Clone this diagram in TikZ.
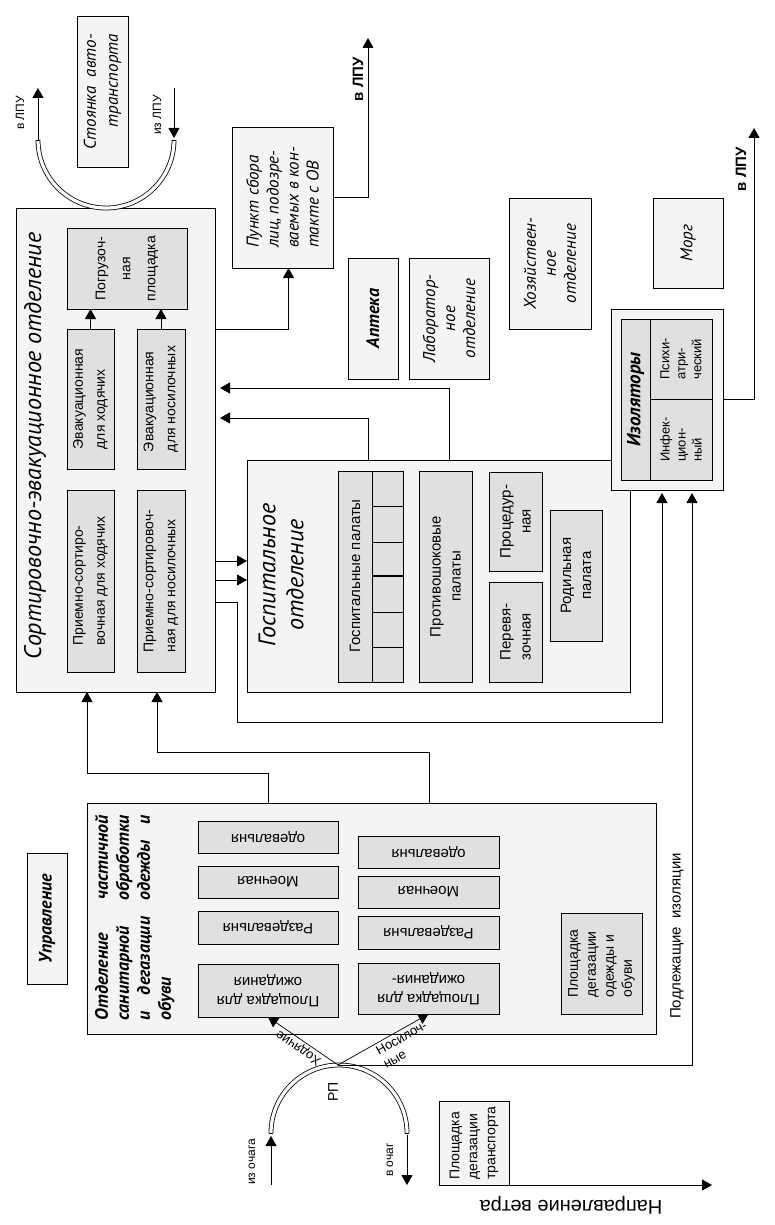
\documentclass[tikz,border=0pt]{standalone}
\usepackage{fontspec}
\setmainfont{Liberation Sans}
\newfontfamily\ptf{PT Sans}
\usetikzlibrary{arrows.meta,calc}
\newcommand\bx[6]{%
 \pgfmathsetmacro\bxw{#5-#3}\pgfmathsetmacro\bxh{#6-#4}%
 \node[#2,anchor=north west,minimum width=\bxw pt,minimum height=\bxh pt] (#1) at (#3,#4) {};}
\begin{document}
\begin{tikzpicture}[x=1pt,y=-1pt,
  every node/.style={inner sep=0pt,outer sep=0pt},
  lt/.style={draw,line width=0.9pt,fill=gray!9},
  dk/.style={draw,line width=0.9pt,fill=gray!24},
  ln/.style={line width=0.9pt},
  arr/.style={line width=0.9pt,-{Triangle[length=10pt,width=11pt]}},
  dbl/.style={line width=0.8pt,double=white,double distance=3.2pt},
  r12/.style={font=\fontsize{12}{14}\selectfont},
  r14/.style={font=\fontsize{14}{22}\selectfont},
  r15/.style={font=\fontsize{15}{20}\selectfont},
  it16/.style={font=\ptf\itshape\fontsize{17}{20}\selectfont},
  bi17/.style={font=\ptf\bfseries\itshape\fontsize{18}{20}\selectfont},
  bd15/.style={font=\bfseries\fontsize{15}{18}\selectfont},
]
\useasboundingbox (0,0) rectangle (774,1225);
% ---------- boxes
\bx{stoy}{lt}{77}{16}{128}{167}
\bx{punkt}{lt}{232}{127}{333}{268}
\bx{seo}{lt}{16}{208}{215}{692}
\bx{pogr}{dk}{67}{228}{187}{309}
\bx{evh}{dk}{67}{329}{114}{469}
\bx{evn}{dk}{137}{329}{185}{469}
\bx{prh}{dk}{67}{490}{114}{672}
\bx{prn}{dk}{137}{490}{185}{672}
\bx{apt}{lt}{348}{258}{398}{379}
\bx{lab}{lt}{409}{258}{489}{379}
\bx{hoz}{lt}{509}{198}{591}{329}
\bx{morg}{lt}{653}{198}{723}{288}
\bx{gosp}{lt}{247}{460}{630}{692}
\bx{izo}{lt}{611}{309}{723}{490}
\bx{izoin}{dk}{621}{319}{712}{480}
\draw[ln] (650,319) -- (650,480) (650,399) -- (712,399);
\bx{gpal}{dk}{338}{471}{403}{682}
\draw[ln] (372,471) -- (372,682);
\foreach \yy in {506,542,612,647} \draw[ln] (372,\yy) -- (403,\yy);
\draw[line width=1.8pt] (372,576) -- (403,576);
\bx{proti}{dk}{419}{471}{472}{682}
\bx{proc}{dk}{489}{472}{542}{571}
\bx{perev}{dk}{489}{582}{542}{682}
\bx{rod}{dk}{550}{510}{602}{641}
\bx{san}{lt}{87}{803}{656}{1034}
\bx{l1}{dk}{198}{821}{338}{853}
\bx{l2}{dk}{198}{866}{338}{898}
\bx{l3}{dk}{198}{911}{338}{944}
\bx{l4}{dk}{198}{964}{338}{1017}
\bx{r1}{dk}{358}{836}{499}{868}
\bx{r2}{dk}{358}{876}{499}{908}
\bx{r3}{dk}{358}{916}{499}{949}
\bx{r4}{dk}{358}{963}{499}{1014}
\bx{degod}{dk}{561}{913}{642}{1014}
\bx{upr}{lt}{27}{853}{67}{984}
\bx{degtr}{lt}{439}{1101}{509}{1185}
% ---------- coordinates
\coordinate (vlA) at (38,88);
\coordinate (izA) at (174,88);
\coordinate (arcL) at (38,140);
\coordinate (arcR) at (174,138);
\coordinate (vl1) at (368,38);
\coordinate (vl2) at (754,128);
\coordinate (rp) at (338,1065);
\coordinate (izoch) at (271,1185);
\coordinate (rpL) at (271,1136);
\coordinate (rpR) at (407,1135);
\coordinate (voch) at (407,1185);
\coordinate (wind) at (712,1185);
% ---------- arcs
\draw[dbl] (38,140) arc[start angle=180,end angle=0,radius=68];
\draw[dbl] (271,1133) arc[start angle=180,end angle=360,radius=68];
\foreach \p in {(38,140),(174,140),(271,1133),(407,1133)}
  \draw[line width=0.8pt] \p ++(-2.4,0) -- ++(4.8,0);
% ---------- connectors
\draw[arr] (arcL) -- (vlA);
\draw[arr] (izA) -- (arcR);
\draw[arr] (punkt.east) -| (vl1);
\draw[arr] (izo.east) -| (vl2);
\draw[arr] (seo.east |- 0,329) -| ([xshift=6pt]punkt.south);
\draw[arr] (evh.north) -- (evh.north |- pogr.south);
\draw[arr] (evn.north) -- (evn.north |- pogr.south);
\draw[arr,shorten >=5pt] (gosp.north -| 449,0) |- (seo.east |- 0,388);
\draw[arr,shorten >=5pt] (gosp.north -| 368,0) |- (seo.east |- 0,418);
\draw[arr] (seo.east |- 0,561) -- (gosp.west |- 0,561);
\draw[arr] (seo.east |- 0,580) -- (gosp.west |- 0,580);
\draw[arr,shorten >=3pt] (seo.east |- 0,602) -| (237,722) -| (izo.south -| 662,0);
\draw[arr,shorten >=3pt] (rp) -| (izo.south -| 692,0);
\draw[arr] (san.north -| 268,0) |- (87,773) -- (seo.south -| 87,0);
\draw[arr] (san.north -| 429,0) |- (157,752) -- (seo.south -| 157,0);
\draw[arr,line width=0.7pt] (rp) -- (l4.south);
\draw[arr,line width=0.7pt] (rp) -- (r4.south);
\draw[arr] (izoch) -- (rpL);
\draw[arr] (rpR) -- (voch);
\draw[arr] (degtr.south west) -- (wind);
% ---------- texts
\node[r12,rotate=90] (t1) at (20,113) {в ЛПУ};
\node[r12,rotate=90] (t2) at (157,115) {из ЛПУ};
\node[rotate=90,align=right,font=\ptf\itshape\fontsize{17}{22}\selectfont] (t3) at (stoy.center) {Стоянка~~авто-\\транспорта};
\node[it16,rotate=90,align=left] (t4) at (punkt.center) {Пункт сбора\\лиц, подозре-\\ваемых в кон-\\такте с ОВ};
\node[bd15,rotate=90] (t5) at (358,79) {в ЛПУ};
\node[bd15,rotate=90] (t6) at (741,169) {в ЛПУ};
\node[rotate=90,font=\ptf\itshape\fontsize{24}{28}\selectfont] (t7) at (35,446) {Сортировочно-эвакуационное отделение};
\node[rotate=90,align=center,font=\fontsize{14}{25}\selectfont] (t8) at (pogr.center) {Погрузоч-\\ная\\площадка};
\node[r14,rotate=90,align=left] (t9) at (evh.center) {Эвакуационная\\для ходячих};
\node[r14,rotate=90,align=left] (t10) at (evn.center) {Эвакуационная\\для носилочных};
\node[r14,rotate=90,align=left] (t11) at (prh.center) {Приемно-сортиро-\\вочная для ходячих};
\node[r14,rotate=90,align=left] (t12) at (prn.center) {Приемно-сортировоч-\\ная для носилочных};
\node[bi17,rotate=90] (t13) at (apt.center) {Аптека};
\node[it16,rotate=90,align=center] (t14) at (lab.center) {Лаборатор-\\ное\\отделение};
\node[it16,rotate=90,align=center] (t15) at (hoz.center) {Хозяйствен-\\ное\\отделение};
\node[it16,rotate=90] (t16) at (morg.center) {Морг};
\node[rotate=90,align=center,font=\ptf\itshape\fontsize{24}{28}\selectfont] (t17) at (281,575) {Госпитальное\\отделение};
\node[r15,rotate=90] (t18) at (355,576) {Госпитальные палаты};
\node[r15,rotate=90,align=center] (t19) at (proti.center) {Противошоковые\\палаты};
\node[r15,rotate=90,align=center] (t20) at (proc.center) {Процедур-\\ная};
\node[r15,rotate=90,align=left] (t21) at (perev.center) {Перевя-\\зочная};
\node[r15,rotate=90,align=center] (t22) at (rod.center) {Родильная\\палата};
\node[rotate=90,font=\ptf\bfseries\itshape\fontsize{19}{20}\selectfont] (t23) at (635.5,399.5) {Изоляторы};
\node[rotate=90,align=left,font=\fontsize{13}{16}\selectfont] (t24) at (681,359) {Психи-\\атри-\\ческий};
\node[rotate=90,align=left,font=\fontsize{13}{16}\selectfont] (t25) at (681,439.5) {Инфек-\\цион-\\ный};
\node[rotate=90,anchor=north west,text width=205pt,align=left,font=\ptf\bfseries\itshape\fontsize{18}{21}\selectfont] (t26) at (95,1020)
  {Отделение\hfill частичной\\санитарной\hfill обработки\\и\hfill дегазации\hfill одежды\hfill и\\обуви};
\node[r15,rotate=180] (t27) at (l1.center) {одевальня};
\node[r15,rotate=180] (t28) at (l2.center) {Моечная};
\node[r15,rotate=180] (t29) at (l3.center) {Раздевальня};
\node[r15,rotate=180,align=center,font=\fontsize{15}{19}\selectfont] (t30) at (l4.center) {Площадка для\\ожидания};
\node[r15,rotate=180] (t31) at (r1.center) {одевальня};
\node[r15,rotate=180] (t32) at (r2.center) {Моечная};
\node[r15,rotate=180] (t33) at (r3.center) {Раздевальня};
\node[r15,rotate=180,align=center,font=\fontsize{15}{19}\selectfont] (t34) at (r4.center) {Площадка для\\ожидания-};
\node[rotate=90,align=left,font=\fontsize{14}{18}\selectfont] (t35) at (degod.center) {Площадка\\дегазации\\одежды и\\обуви};
\node[bi17,rotate=90] (t36) at (upr.center) {Управление};
\node[rotate=90,align=left,font=\fontsize{14}{18}\selectfont] (t37) at (degtr.center) {Площадка\\дегазации\\транспорта};
\node[r14,rotate=90] (t38) at (333,1092) {РП};
\node[r12,rotate=90] (t39) at (252,1162) {из очага};
\node[r12,rotate=90] (t40) at (390,1160) {в очаг};
\node[rotate=146.3,anchor=south,inner sep=2pt,font=\fontsize{13}{15}\selectfont] (t41) at ($(rp)!0.5!(l4.south)$) {Ходячие};
\node[rotate=29.5,anchor=north west,inner sep=2pt,align=left,font=\fontsize{13}{15}\selectfont] (t42) at (372,1047) {Носилоч-\\ные};
\node[rotate=90,font=\fontsize{15}{18}\selectfont] (t43) at (677,936) {Подлежащие~~изоляции};
\node[rotate=180,font=\fontsize{20}{24}\selectfont] (t44) at (571,1205) {Направление ветра};
\end{tikzpicture}
\end{document}
